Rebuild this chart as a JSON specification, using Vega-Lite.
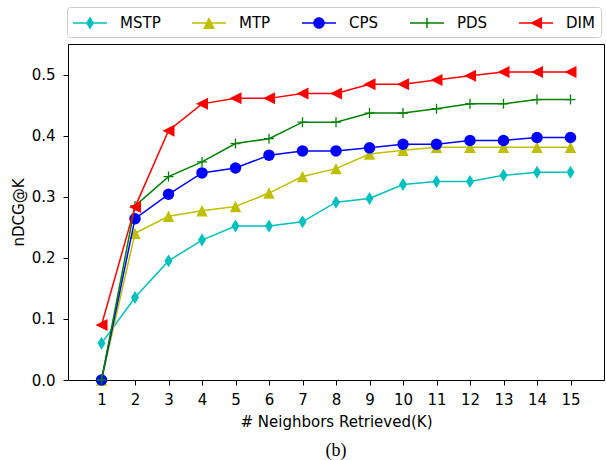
{
  "$schema": "https://vega.github.io/schema/vega-lite/v6.json",
  "width": 536,
  "height": 336,
  "autosize": {"type": "none"},
  "padding": {"left": 68, "top": 44, "right": 2, "bottom": 80},
  "title": {"text": "(b)", "orient": "bottom", "anchor": "middle", "font": "Liberation Serif", "fontSize": 18, "fontWeight": "normal", "color": "black", "offset": 13},
  "data": {"values": [
    {"K":1,"series":"MSTP","v":0.06},{"K":2,"series":"MSTP","v":0.135},{"K":3,"series":"MSTP","v":0.195},{"K":4,"series":"MSTP","v":0.229},{"K":5,"series":"MSTP","v":0.252},{"K":6,"series":"MSTP","v":0.252},{"K":7,"series":"MSTP","v":0.259},{"K":8,"series":"MSTP","v":0.291},{"K":9,"series":"MSTP","v":0.297},{"K":10,"series":"MSTP","v":0.32},{"K":11,"series":"MSTP","v":0.325},{"K":12,"series":"MSTP","v":0.325},{"K":13,"series":"MSTP","v":0.335},{"K":14,"series":"MSTP","v":0.34},{"K":15,"series":"MSTP","v":0.34},
    {"K":1,"series":"MTP","v":0.0},{"K":2,"series":"MTP","v":0.24},{"K":3,"series":"MTP","v":0.268},{"K":4,"series":"MTP","v":0.277},{"K":5,"series":"MTP","v":0.284},{"K":6,"series":"MTP","v":0.306},{"K":7,"series":"MTP","v":0.333},{"K":8,"series":"MTP","v":0.346},{"K":9,"series":"MTP","v":0.37},{"K":10,"series":"MTP","v":0.376},{"K":11,"series":"MTP","v":0.381},{"K":12,"series":"MTP","v":0.381},{"K":13,"series":"MTP","v":0.381},{"K":14,"series":"MTP","v":0.381},{"K":15,"series":"MTP","v":0.381},
    {"K":1,"series":"CPS","v":0.0},{"K":2,"series":"CPS","v":0.264},{"K":3,"series":"CPS","v":0.304},{"K":4,"series":"CPS","v":0.339},{"K":5,"series":"CPS","v":0.347},{"K":6,"series":"CPS","v":0.368},{"K":7,"series":"CPS","v":0.375},{"K":8,"series":"CPS","v":0.375},{"K":9,"series":"CPS","v":0.38},{"K":10,"series":"CPS","v":0.386},{"K":11,"series":"CPS","v":0.386},{"K":12,"series":"CPS","v":0.392},{"K":13,"series":"CPS","v":0.392},{"K":14,"series":"CPS","v":0.397},{"K":15,"series":"CPS","v":0.397},
    {"K":1,"series":"PDS","v":0.0},{"K":2,"series":"PDS","v":0.285},{"K":3,"series":"PDS","v":0.333},{"K":4,"series":"PDS","v":0.357},{"K":5,"series":"PDS","v":0.387},{"K":6,"series":"PDS","v":0.395},{"K":7,"series":"PDS","v":0.422},{"K":8,"series":"PDS","v":0.422},{"K":9,"series":"PDS","v":0.437},{"K":10,"series":"PDS","v":0.437},{"K":11,"series":"PDS","v":0.444},{"K":12,"series":"PDS","v":0.452},{"K":13,"series":"PDS","v":0.452},{"K":14,"series":"PDS","v":0.459},{"K":15,"series":"PDS","v":0.459},
    {"K":1,"series":"DIM","v":0.09},{"K":2,"series":"DIM","v":0.283},{"K":3,"series":"DIM","v":0.408},{"K":4,"series":"DIM","v":0.452},{"K":5,"series":"DIM","v":0.461},{"K":6,"series":"DIM","v":0.461},{"K":7,"series":"DIM","v":0.469},{"K":8,"series":"DIM","v":0.469},{"K":9,"series":"DIM","v":0.484},{"K":10,"series":"DIM","v":0.484},{"K":11,"series":"DIM","v":0.491},{"K":12,"series":"DIM","v":0.498},{"K":13,"series":"DIM","v":0.504},{"K":14,"series":"DIM","v":0.504},{"K":15,"series":"DIM","v":0.504}
  ]},
  "encoding": {
    "x": {"field": "K", "type": "quantitative", "scale": {"domain": [0, 16], "nice": false, "zero": false},
          "axis": {"values": [1,2,3,4,5,6,7,8,9,10,11,12,13,14,15], "title": "# Neighbors Retrieved(K)", "labelPadding": 7, "titlePadding": 7, "labelFlush": false}},
    "y": {"field": "v", "type": "quantitative", "scale": {"domain": [0, 0.55], "nice": false},
          "axis": {"values": [0, 0.1, 0.2, 0.3, 0.4, 0.5], "format": ".1f", "title": "nDCG@K", "labelPadding": 8, "titlePadding": 5, "labelFlush": false}}
  },
  "layer": [
    {"transform": [{"filter": "datum.series === 'MSTP'"}], "mark": {"type": "line", "color": "#00bfbf", "strokeWidth": 1.5}, "encoding": {}},
    {"transform": [{"filter": "datum.series === 'MSTP'"}], "mark": {"type": "point", "shape": "M0,-1.08L0.67,0L0,1.08L-0.67,0Z", "size": 144, "filled": true, "color": "#00bfbf", "opacity": 1}},
    {"transform": [{"filter": "datum.series === 'MTP'"}], "mark": {"type": "line", "color": "#bfbf00", "strokeWidth": 1.5}, "encoding": {}},
    {"transform": [{"filter": "datum.series === 'MTP'"}], "mark": {"type": "point", "shape": "M0,-0.95L0.95,0.95L-0.95,0.95Z", "size": 144, "filled": true, "color": "#bfbf00", "opacity": 1}},
    {"transform": [{"filter": "datum.series === 'CPS'"}], "mark": {"type": "line", "color": "#0000ff", "strokeWidth": 1.5}, "encoding": {}},
    {"transform": [{"filter": "datum.series === 'CPS'"}], "mark": {"type": "point", "shape": "circle", "size": 132, "filled": true, "color": "#0000ff", "opacity": 1}},
    {"transform": [{"filter": "datum.series === 'PDS'"}], "mark": {"type": "line", "color": "#008000", "strokeWidth": 1.5}, "encoding": {}},
    {"transform": [{"filter": "datum.series === 'PDS'"}], "mark": {"type": "point", "shape": "M-1,0H1M0,-1V1", "size": 100, "filled": false, "color": "#008000", "strokeWidth": 1.3, "opacity": 1}},
    {"transform": [{"filter": "datum.series === 'DIM'"}], "mark": {"type": "line", "color": "#ff0000", "strokeWidth": 1.5}, "encoding": {}},
    {"transform": [{"filter": "datum.series === 'DIM'"}], "mark": {"type": "point", "shape": "M-1,0L1,-1L1,1Z", "size": 144, "filled": true, "color": "#ff0000", "opacity": 1}},
    {"mark": {"type": "point", "filled": true, "opacity": 0},
     "encoding": {
       "fill": {"field": "series", "type": "nominal",
                "scale": {"domain": ["MSTP","MTP","CPS","PDS","DIM"], "range": ["#00bfbf","#bfbf00","#0000ff","#008000","#ff0000"]},
                "legend": {"title": null, "orient": "none", "legendX": -1, "legendY": -37, "direction": "horizontal", "columns": 5}},
       "shape": {"field": "series", "type": "nominal",
                 "scale": {"domain": ["MSTP","MTP","CPS","PDS","DIM"], "range": [
                   "M-1.7,-0.075H1.7V0.075H-1.7ZM0,-0.65L0.4,0L0,0.65L-0.4,0Z",
                   "M-1.7,-0.075H1.7V0.075H-1.7ZM0,-0.6L0.6,0.6L-0.6,0.6Z",
                   "M-1.7,-0.075H1.7V0.075H-1.7ZM-0.575,0A0.575,0.575,0,1,1,0.575,0A0.575,0.575,0,1,1,-0.575,0Z",
                   "M-1.7,-0.075H1.7V0.075H-1.7ZM-0.075,-0.5H0.075V0.5H-0.075Z",
                   "M-1.7,-0.075H1.7V0.075H-1.7ZM-0.6,0L0.6,-0.6L0.6,0.6Z"]},
                 "legend": {"title": null, "orient": "none", "legendX": -1, "legendY": -37, "direction": "horizontal", "columns": 5}}
     }}
  ],
  "config": {
    "view": {"stroke": "black", "strokeWidth": 1},
    "axis": {"grid": false, "domainColor": "black", "domainWidth": 1, "tickColor": "black", "tickWidth": 1, "tickSize": 5,
             "labelFont": "DejaVu Sans", "labelFontSize": 15, "labelColor": "black",
             "titleFont": "DejaVu Sans", "titleFontSize": 15, "titleFontWeight": "normal", "titleColor": "black"},
    "legend": {"padding": 6, "strokeColor": "#cccccc", "cornerRadius": 3, "fillColor": "white",
               "symbolSize": 400, "symbolStrokeWidth": 0, "symbolOpacity": 1, "symbolOffset": 7,
               "labelFont": "DejaVu Sans", "labelFontSize": 15, "labelColor": "black", "labelOffset": 20, "columnPadding": 31}
  }
}
